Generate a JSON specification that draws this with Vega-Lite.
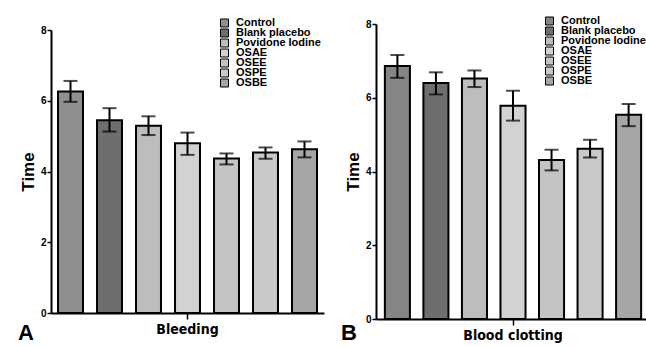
{
  "$schema": "https://vega.github.io/schema/vega-lite/v6.json",
  "padding": {"left": 18, "top": 16, "right": 0, "bottom": 0},
  "background": "white",
  "bounds": "flush",
  "center": true,
  "spacing": 52,
  "config": {
    "view": {"stroke": null},
    "font": "Liberation Sans",
    "axis": {"domainColor": "black", "domainWidth": 2, "tickColor": "black", "tickWidth": 1.5, "grid": false, "labelColor": "black", "titleColor": "black"},
    "legend": {"orient": "none", "legendX": 168, "title": null, "symbolType": "square", "symbolSize": 64, "symbolStrokeColor": "black", "symbolStrokeWidth": 1, "labelFont": "Liberation Sans", "labelFontWeight": "bold", "labelFontSize": 11, "labelColor": "black", "labelOffset": 6}
  },
  "resolve": {"legend": {"fill": "independent"}, "scale": {"xOffset": "independent", "fill": "independent", "x": "independent", "y": "independent"}},
  "data": {"values": [
    {"panel": "A", "test": "Bleeding", "treatment": "Control", "mean": 6.26, "lo": 5.97, "hi": 6.56},
    {"panel": "A", "test": "Bleeding", "treatment": "Blank placebo", "mean": 5.45, "lo": 5.13, "hi": 5.79},
    {"panel": "A", "test": "Bleeding", "treatment": "Povidone Iodine", "mean": 5.29, "lo": 5.03, "hi": 5.56},
    {"panel": "A", "test": "Bleeding", "treatment": "OSAE", "mean": 4.80, "lo": 4.47, "hi": 5.10},
    {"panel": "A", "test": "Bleeding", "treatment": "OSEE", "mean": 4.37, "lo": 4.20, "hi": 4.51},
    {"panel": "A", "test": "Bleeding", "treatment": "OSPE", "mean": 4.54, "lo": 4.36, "hi": 4.68},
    {"panel": "A", "test": "Bleeding", "treatment": "OSBE", "mean": 4.63, "lo": 4.40, "hi": 4.85},
    {"panel": "B", "test": "Blood clotting", "treatment": "Control", "mean": 6.86, "lo": 6.54, "hi": 7.16},
    {"panel": "B", "test": "Blood clotting", "treatment": "Blank placebo", "mean": 6.40, "lo": 6.09, "hi": 6.69},
    {"panel": "B", "test": "Blood clotting", "treatment": "Povidone Iodine", "mean": 6.52, "lo": 6.29, "hi": 6.74},
    {"panel": "B", "test": "Blood clotting", "treatment": "OSAE", "mean": 5.78, "lo": 5.38, "hi": 6.19},
    {"panel": "B", "test": "Blood clotting", "treatment": "OSEE", "mean": 4.31, "lo": 4.03, "hi": 4.59},
    {"panel": "B", "test": "Blood clotting", "treatment": "OSPE", "mean": 4.62, "lo": 4.38, "hi": 4.86},
    {"panel": "B", "test": "Blood clotting", "treatment": "OSBE", "mean": 5.54, "lo": 5.23, "hi": 5.83}
  ]},
  "hconcat": [
    {
      "width": 273, "height": 283,
      "transform": [{"filter": {"field": "panel", "equal": "A"}}],
      "title": {"text": "A", "orient": "bottom", "anchor": "start", "frame": "group", "fontSize": 22, "fontWeight": "bold", "color": "black", "dx": -33, "dy": -13, "offset": 0},
      "encoding": {
        "x": {"field": "test", "type": "nominal", "title": null, "scale": {"paddingInner": 0, "paddingOuter": 0}, "axis": {"labelAngle": 0, "labelFont": "DejaVu Sans Condensed", "labelFontWeight": "bold", "labelFontSize": 14, "tickSize": 6, "labelPadding": 3}},
        "xOffset": {"field": "treatment", "type": "nominal", "sort": ["Control", "Blank placebo", "Povidone Iodine", "OSAE", "OSEE", "OSPE", "OSBE"], "scale": {"paddingInner": 0.36, "paddingOuter": 0.18}}
      },
      "layer": [
        {
          "mark": {"type": "bar", "stroke": "black", "strokeWidth": 2},
          "encoding": {
            "y": {"field": "mean", "type": "quantitative", "title": "Time", "scale": {"domain": [0, 8]}, "axis": {"values": [0, 2, 4, 6, 8], "tickSize": 4, "labelPadding": 1, "labelFont": "Liberation Sans", "labelFontWeight": "bold", "labelFontSize": 10, "titleFont": "Liberation Sans", "titleFontSize": 17, "titleFontWeight": "bold", "titlePadding": 3}},
            "fill": {"field": "treatment", "type": "nominal", "sort": ["Control", "Blank placebo", "Povidone Iodine", "OSAE", "OSEE", "OSPE", "OSBE"], "scale": {"domain": ["Control", "Blank placebo", "Povidone Iodine", "OSAE", "OSEE", "OSPE", "OSBE"], "range": ["#8f8f8f", "#6e6e6e", "#bdbdbd", "#d2d2d2", "#c4c4c4", "#c9c9c9", "#a6a6a6"]}, "legend": {"legendY": -12, "rowPadding": -1.5, "clipHeight": 10}}
          }
        },
        {"mark": {"type": "rule", "strokeWidth": 2, "color": "black"}, "encoding": {"y": {"field": "lo", "type": "quantitative", "title": "Time"}, "y2": {"field": "hi"}}},
        {"mark": {"type": "tick", "thickness": 2, "size": 14, "color": "black"}, "encoding": {"y": {"field": "hi", "type": "quantitative", "title": "Time"}}},
        {"mark": {"type": "tick", "thickness": 2, "size": 14, "color": "black"}, "encoding": {"y": {"field": "lo", "type": "quantitative", "title": "Time"}}}
      ]
    },
    {
      "width": 274, "height": 295,
      "transform": [{"filter": {"field": "panel", "equal": "B"}}],
      "title": {"text": "B", "orient": "bottom", "anchor": "start", "frame": "group", "fontSize": 22, "fontWeight": "bold", "color": "black", "dx": -35, "dy": -19, "offset": 0},
      "encoding": {
        "x": {"field": "test", "type": "nominal", "title": null, "scale": {"paddingInner": 0, "paddingOuter": 0}, "axis": {"labelAngle": 0, "labelFont": "DejaVu Sans Condensed", "labelFontWeight": "bold", "labelFontSize": 14, "tickSize": 6, "labelPadding": 3}},
        "xOffset": {"field": "treatment", "type": "nominal", "sort": ["Control", "Blank placebo", "Povidone Iodine", "OSAE", "OSEE", "OSPE", "OSBE"], "scale": {"paddingInner": 0.35, "paddingOuter": 0.23}}
      },
      "layer": [
        {
          "mark": {"type": "bar", "stroke": "black", "strokeWidth": 2},
          "encoding": {
            "y": {"field": "mean", "type": "quantitative", "title": "Time", "scale": {"domain": [0, 8]}, "axis": {"values": [0, 2, 4, 6, 8], "tickSize": 4, "labelPadding": 1, "labelFont": "Liberation Sans", "labelFontWeight": "bold", "labelFontSize": 10, "titleFont": "Liberation Sans", "titleFontSize": 17, "titleFontWeight": "bold", "titlePadding": 3}},
            "fill": {"field": "treatment", "type": "nominal", "sort": ["Control", "Blank placebo", "Povidone Iodine", "OSAE", "OSEE", "OSPE", "OSBE"], "scale": {"domain": ["Control", "Blank placebo", "Povidone Iodine", "OSAE", "OSEE", "OSPE", "OSBE"], "range": ["#858585", "#6e6e6e", "#bdbdbd", "#d2d2d2", "#c4c4c4", "#c9c9c9", "#a6a6a6"]}, "legend": {"legendY": -8, "legendX": 168, "rowPadding": -1.5, "clipHeight": 10}}
          }
        },
        {"mark": {"type": "rule", "strokeWidth": 2, "color": "black"}, "encoding": {"y": {"field": "lo", "type": "quantitative", "title": "Time"}, "y2": {"field": "hi"}}},
        {"mark": {"type": "tick", "thickness": 2, "size": 14, "color": "black"}, "encoding": {"y": {"field": "hi", "type": "quantitative", "title": "Time"}}},
        {"mark": {"type": "tick", "thickness": 2, "size": 14, "color": "black"}, "encoding": {"y": {"field": "lo", "type": "quantitative", "title": "Time"}}}
      ]
    }
  ]
}
